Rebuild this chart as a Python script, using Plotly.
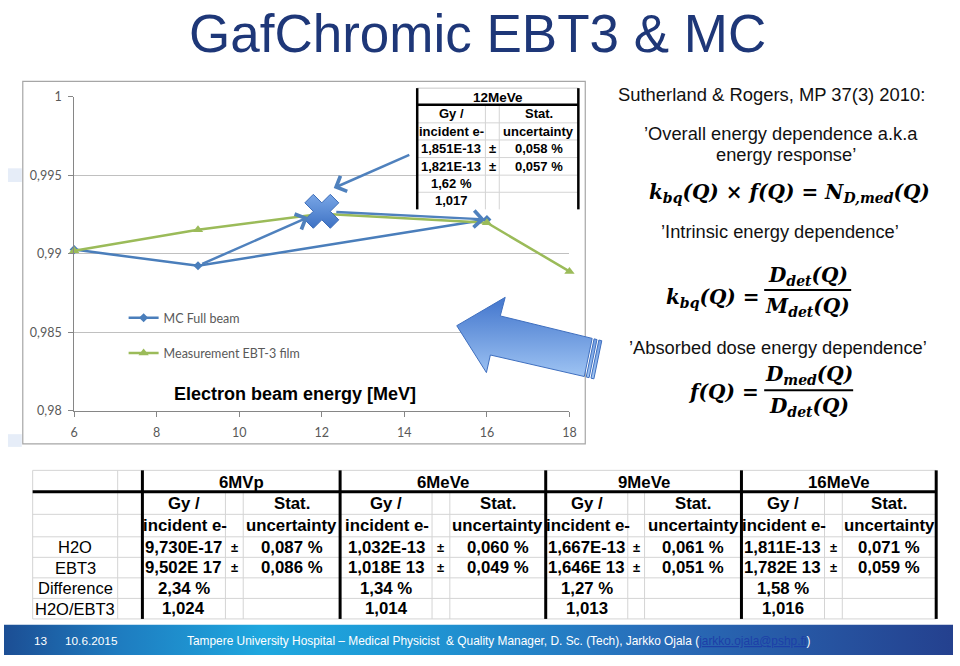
import plotly.graph_objects as go

W, H = 960, 666

# ---------------- data ----------------
energy_mc = [6, 9, 16]
ratio_mc = [0.99027, 0.98924, 0.99219]
energy_mc12 = [12]
ratio_mc12 = [0.99271]
energy_meas = [6, 9, 12, 16, 18]
ratio_meas = [0.99019, 0.99153, 0.99255, 0.99198, 0.98888]
x_ticks = [6, 8, 10, 12, 14, 16, 18]
y_ticks = [0.98, 0.985, 0.99, 0.995, 1.0]
y_tick_labels = ['0,98', '0,985', '0,99', '0,995', '1']

t12_header = '12MeVe'
t12_rows = [['Gy /', '', 'Stat.'],
            ['incident e-', '', 'uncertainty'],
            ['1,851E-13', '±', '0,058 %'],
            ['1,821E-13', '±', '0,057 %'],
            ['1,62 %', '', ''],
            ['1,017', '', '']]

groups = ['6MVp', '6MeVe', '9MeVe', '16MeVe']
row_labels = ['H2O', 'EBT3', 'Difference', 'H2O/EBT3']
dose_h2o = ['9,730E-17', '1,032E-13', '1,667E-13', '1,811E-13']
unc_h2o = ['0,087 %', '0,060 %', '0,061 %', '0,071 %']
dose_ebt3 = ['9,502E 17', '1,018E 13', '1,646E 13', '1,782E 13']
unc_ebt3 = ['0,086 %', '0,049 %', '0,051 %', '0,059 %']
difference = ['2,34 %', '1,34 %', '1,27 %', '1,58 %']
h2o_ebt3 = ['1,024', '1,014', '1,013', '1,016']

# ---------------- helpers ----------------
def px(x):
    return x / W

def py(y):
    return 1 - y / H

ARIAL = 'Liberation Sans'
annotations = []
shapes = []

def text(x, y, s, size=16, color='#000', bold=False, anchor='center', font=ARIAL):
    if bold:
        s = '<b>' + s + '</b>'
    annotations.append(dict(x=px(x), y=py(y), xref='paper', yref='paper', text=s,
                            showarrow=False, xanchor=anchor, yanchor='middle', borderpad=0,
                            font=dict(size=size, color=color, family=font)))

def hline(x0, x1, y, color='#D4D4D4', width=1, layer='above'):
    shapes.append(dict(type='line', xref='paper', yref='paper', x0=px(x0), x1=px(x1),
                       y0=py(y), y1=py(y), line=dict(color=color, width=width), layer=layer))

def vline(x, y0, y1, color='#D4D4D4', width=1, layer='above'):
    shapes.append(dict(type='line', xref='paper', yref='paper', x0=px(x), x1=px(x),
                       y0=py(y0), y1=py(y1), line=dict(color=color, width=width), layer=layer))

def rect(x0, y0, x1, y1, fill='white', line=None, layer='above', lw=1):
    shapes.append(dict(type='rect', xref='paper', yref='paper', x0=px(x0), x1=px(x1),
                       y0=py(y1), y1=py(y0), fillcolor=fill,
                       line=dict(color=line or 'rgba(0,0,0,0)', width=lw if line else 0), layer=layer))

fig = go.Figure()

# ---------------- chart traces ----------------
fig.add_trace(go.Scatter(x=energy_mc, y=ratio_mc, mode='lines+markers', name='MC Full beam',
                         line=dict(color='#4A7EBB', width=2.5),
                         marker=dict(symbol='diamond', size=7, color='#4A7EBB'),
                         legendgroup='a', cliponaxis=False))
fig.add_trace(go.Scatter(x=energy_meas, y=ratio_meas, mode='lines+markers', name='Measurement EBT-3 film',
                         line=dict(color='#9BBB59', width=2.5),
                         marker=dict(symbol='triangle-up', size=9, color='#9BBB59'),
                         legendgroup='b', cliponaxis=False))
fig.add_trace(go.Scatter(x=energy_mc12, y=ratio_mc12, mode='markers', showlegend=False,
                         marker=dict(symbol='x', size=30, color='#79A6E6',
                                     line=dict(color='#3D6DB8', width=1),
                                     gradient=dict(type='vertical', color='#3E72C4')),
                         cliponaxis=False))

# chart annotation arrows (data coordinates)
arrow_style = dict(showarrow=True, arrowhead=4, arrowsize=1.3, arrowwidth=2.5, arrowcolor='#4F81BD', text='')
annotations.append(dict(x=energy_mc12[0], y=ratio_mc12[0], ax=energy_mc[1], ay=ratio_mc[1],
                        xref='x', yref='y', axref='x', ayref='y', standoff=15, startstandoff=3, **arrow_style))
annotations.append(dict(x=energy_mc[2], y=ratio_mc[2], ax=energy_mc12[0], ay=ratio_mc12[0],
                        xref='x', yref='y', axref='x', ayref='y', standoff=2, startstandoff=13, **arrow_style))
annotations.append(dict(x=energy_mc12[0], y=ratio_mc12[0], yshift=18, ax=89, ay=-39,
                        xref='x', yref='y', standoff=13, **arrow_style))
annotations.append(dict(x=px(294), y=py(395), xref='paper', yref='paper', showarrow=False,
                        text='<b>Electron beam energy [MeV]</b>', xanchor='center', yanchor='middle',
                        font=dict(size=18, color='#000', family=ARIAL)))

# ---------------- canvas traces (decorations, pixel coords) ----------------
def poly(xs, ys, grad, gtype='vertical', start=None, stop=None, line_color=None, lw=0):
    fg = dict(type=gtype, colorscale=grad)
    if start is not None:
        fg['start'] = start
        fg['stop'] = stop
    fig.add_trace(go.Scatter(x=xs + [xs[0]], y=ys + [ys[0]], xaxis='x2', yaxis='y2', mode='lines',
                             fill='toself', fillgradient=fg, showlegend=False, hoverinfo='skip',
                             line=dict(color=line_color or 'rgba(0,0,0,0)', width=lw)))

# big arrow
arrow_x = [458, 507, 502, 595, 587, 492, 488]
arrow_y = [325, 296, 315, 338, 377, 355, 373]
blue_grad = [[0, '#4A7CD0'], [1, '#A8CCF7']]
poly(arrow_x, arrow_y, blue_grad, 'vertical', 296, 377, '#3F6FBF', 1)
dx, dy = 0.971, 0.240
for t0, t1 in [(2, 5), (7, 10)]:
    xs = [595 + t0 * dx, 595 + t1 * dx, 587 + t1 * dx, 587 + t0 * dx]
    ys = [338 + t0 * dy, 338 + t1 * dy, 377 + t1 * dy, 377 + t0 * dy]
    poly(xs, ys, blue_grad, 'vertical', 296, 377, '#3F6FBF', 1)

# footer band
footer_grad = [[0, '#1C4E94'], [0.12, '#1E7CC0'], [0.27, '#1FA8DF'], [0.42, '#1E98D5'],
               [0.68, '#296DB9'], [1, '#243F8D']]
poly([0, 960, 960, 0], [631, 631, 662, 662], footer_grad, 'horizontal', 0, 960)

# ---------------- chart frame & small squares ----------------
rect(19, 75, 588, 446, fill='rgba(0,0,0,0)', line='#A6A6A6', layer='below', lw=1.2)
rect(4, 164, 18, 178, fill='#E6EDF8', layer='below')
rect(4, 436, 18, 449, fill='#E6EDF8', layer='below')

# ---------------- inner 12MeVe table ----------------
tc = [418, 487, 501, 581]
tr = [82, 99, 117.5, 135, 153, 171, 188.5, 206]
rect(418, 81, 584, 207, fill='white', layer='above')
hline(418, 581, tr[0], color='#C8C8C8')
for yv in tr[2:-1]:
    hline(418, 581, yv)
for xv in tc[1:3]:
    vline(xv, tr[1], tr[-1])
vline(tc[0], tr[0], tr[-1], color='#000', width=2.5)
vline(tc[3], tr[0], tr[-1], color='#000', width=2.5)
hline(tc[0], tc[3], tr[1], color='#000', width=2.5)
text((tc[0] + tc[3]) / 2, (tr[0] + tr[1]) / 2 + 1, t12_header, size=13.5, bold=True)
for i, row in enumerate(t12_rows):
    yc = (tr[i + 1] + tr[i + 2]) / 2
    for j, val in enumerate(row):
        if val:
            text((tc[j] + tc[j + 1]) / 2, yc, val, size=13, bold=True)

# ---------------- bottom table ----------------
gcols = [[140, 224, 242, 340], [340, 433, 451, 548], [548, 631, 648, 746], [746, 830, 848, 943]]
br = [473, 495, 518, 541, 562, 583, 604, 625]
rect(29, 473, 943, 625, fill='white', layer='above')
for yv in br[:1] + br[2:]:
    hline(29, 943, yv)
vline(29, br[0], br[-1])
vline(115, br[0], br[-1])
for g in gcols:
    vline(g[1], br[1], br[-1])
    vline(g[2], br[1], br[-1])
for g in gcols:
    vline(g[0], br[0], br[-1], color='#000', width=3)
vline(943, br[0], br[-1], color='#000', width=3)
hline(29, 943, br[1], color='#000', width=3)

def rc(i):
    return (br[i] + br[i + 1]) / 2

TS = 16.8
for k, g in enumerate(gcols):
    ca = (g[0] + g[1]) / 2
    cp = (g[1] + g[2]) / 2
    cs = (g[2] + g[3]) / 2
    text((g[0] + g[3]) / 2, rc(0) + 1, groups[k], bold=True, size=TS)
    text(ca, rc(1), 'Gy /', bold=True, size=TS)
    text(cs, rc(1), 'Stat.', bold=True, size=TS)
    text(ca + 1, rc(2), 'incident e-', bold=True, size=TS)
    text(cs, rc(2), 'uncertainty', bold=True, size=TS)
    text(ca, rc(3), dose_h2o[k], bold=True, size=TS)
    text(cp, rc(3), '±', bold=True, size=13)
    text(cs, rc(3), unc_h2o[k], bold=True, size=TS)
    text(ca, rc(4), dose_ebt3[k], bold=True, size=TS)
    text(cp, rc(4), '±', bold=True, size=13)
    text(cs, rc(4), unc_ebt3[k], bold=True, size=TS)
    text(ca, rc(5), difference[k], bold=True, size=TS)
    text(ca, rc(6), h2o_ebt3[k], bold=True, size=TS)
for i, lab in enumerate(row_labels):
    text(72, rc(3 + i), lab, size=16.5)

# ---------------- title & right side text ----------------
text(479, 26, 'GafChromic EBT3 & MC', size=53, color='#1E3778')
text(620, 88, 'Sutherland &amp; Rogers, MP 37(3) 2010:', size=18.4, color='#111', anchor='left')
text(786, 128, '’Overall energy dependence a.k.a', size=18.3, color='#111')
text(791, 150, 'energy response’', size=18.3, color='#111')
text(785, 229, '’Intrinsic energy dependence’', size=18.3, color='#111')
text(783, 347, '’Absorbed dose energy dependence’', size=18.3, color='#111')

MATH = 'DejaVu Serif'
def math(x, y, s, anchor='center', size=20):
    text(x, y, '<b><i>' + s + '</i></b>', size=size, color='#000', anchor=anchor, font=MATH)

math(795, 189, 'k<sub>bq</sub>(Q) × f(Q) = N<sub>D,med</sub>(Q)')
math(766, 297, 'k<sub>bq</sub>(Q) =', anchor='right')
math(813, 274, 'D<sub>det</sub>(Q)')
hline(769, 857, 288.5, color='#000', width=2)
math(813, 306, 'M<sub>det</sub>(Q)')
math(765, 393, 'f(Q) =', anchor='right')
math(814, 375, 'D<sub>med</sub>(Q)')
hline(769, 859, 391, color='#000', width=2)
math(814, 408, 'D<sub>det</sub>(Q)')

# ---------------- footer text ----------------
text(37, 648, '13', size=11.8, color='white')
text(61, 648, '10.6.2015', size=11.8, color='white', anchor='left')
text(184, 648, 'Tampere University Hospital – Medical Physicist  &amp; Quality Manager, D. Sc. (Tech), '
     'Jarkko Ojala (<span style="color:#1D3FA8"><u>jarkko.ojala@pshp.fi</u></span>)',
     size=11.9, color='white', anchor='left')

# ---------------- layout ----------------
tickfont = dict(size=12.5, color='#595959', family='Lato')
fig.update_layout(
    width=W, height=H, margin=dict(l=0, r=0, t=0, b=0),
    paper_bgcolor='white', plot_bgcolor='rgba(0,0,0,0)',
    xaxis=dict(domain=[px(71), px(572)], range=[6, 18], tickvals=x_ticks, showgrid=False,
               showline=True, linecolor='#868686', ticks='outside', ticklen=5, tickcolor='#868686',
               tickfont=tickfont, zeroline=False, fixedrange=True, ticklabelstandoff=5),
    yaxis=dict(domain=[py(412), py(91)], range=[0.98, 1.0], tickvals=y_ticks, ticktext=y_tick_labels,
               showgrid=True, gridcolor='#C0C0C0', showline=True, linecolor='#868686',
               ticks='outside', ticklen=5, tickcolor='#868686', tickfont=tickfont,
               zeroline=False, fixedrange=True, ticklabelstandoff=4),
    xaxis2=dict(domain=[0, 1], range=[0, W], visible=False, anchor='y2', fixedrange=True),
    yaxis2=dict(domain=[0, 1], range=[H, 0], visible=False, anchor='x2', fixedrange=True),
    legend=dict(x=px(121), y=py(302), xanchor='left', yanchor='top', bgcolor='rgba(0,0,0,0)',
                font=dict(size=12.5, color='#595959', family='Lato'), traceorder='grouped',
                tracegroupgap=16, itemwidth=30),
    annotations=annotations, shapes=shapes, showlegend=True,
)

fig.write_html('out.html', config={'displayModeBar': False},
               post_script="document.body.style.margin='0';document.body.style.overflow='hidden';")
